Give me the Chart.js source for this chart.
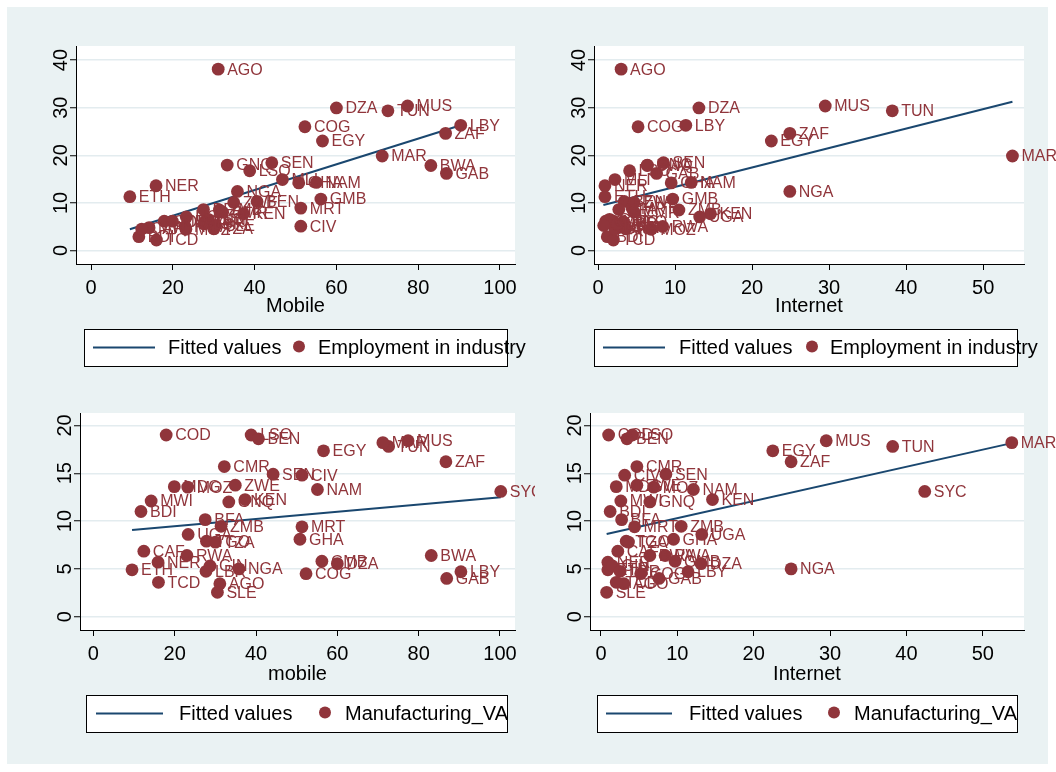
<!DOCTYPE html>
<html><head><meta charset="utf-8">
<script src="https://cdn.jsdelivr.net/npm/chart.js@4.4.1/dist/chart.umd.min.js"></script>
<style>
html,body{margin:0;padding:0;background:#fff}
body{width:1056px;height:772px;position:relative;overflow:hidden}
#bg{position:absolute;left:7px;top:7px;width:1041px;height:757px;background:#EAF2F3}
canvas{position:absolute}
</style></head>
<body>
<div id="bg"></div>
<canvas id="c1" width="535" height="386" style="left:0;top:0"></canvas>
<canvas id="c2" width="521" height="386" style="left:535px;top:0"></canvas>
<canvas id="c3" width="535" height="386" style="left:0;top:386px"></canvas>
<canvas id="c4" width="521" height="386" style="left:535px;top:386px"></canvas>
<script>
// ---------------- DATA ----------------
const countries = ['AGO','DZA','TUN','MUS','COG','EGY','LBY','ZAF','MAR','BWA','GAB','GNQ','SEN','LSO','MLI','GHA','NAM','NER','ETH','NGA','BEN','MRT','GMB','CIV','KEN','ZWE','ZMB','UGA','BFA','BDI','TCD','MWI','CAF','COD','MDG','MOZ','RWA','TGO','TZA','GIN','LBR','SLE','CMR','SYC'];
const mobile = [31.1,60.0,72.6,77.4,52.3,56.6,90.4,86.7,71.2,83.1,86.9,33.3,44.2,38.8,46.8,50.8,55.1,15.9,9.5,35.8,40.6,51.3,56.2,51.3,37.3,34.9,31.4,23.3,27.5,11.7,16.0,14.2,12.4,17.9,19.9,23.2,23.0,27.8,30.0,28.7,27.7,30.5,32.2,100.2];
const internet = [3.0,13.1,38.2,29.5,5.2,22.5,11.4,24.9,53.8,6.4,7.6,6.4,8.5,4.1,2.2,9.5,12.1,0.9,0.9,24.9,3.4,4.4,9.7,3.1,14.6,4.7,10.5,13.2,2.7,1.2,2.0,2.6,2.2,1.0,2.0,6.9,8.4,3.3,3.6,1.5,2.5,0.74,4.7,42.4];
const employment = [38.1,29.95,29.35,30.35,26.0,23.0,26.3,24.6,19.85,17.85,16.2,17.95,18.45,16.75,14.9,14.2,14.3,13.6,11.3,12.4,10.3,8.9,10.8,5.1,7.7,10.1,8.5,7.05,8.6,2.9,2.2,4.8,4.5,6.15,6.15,4.45,5.05,6.05,4.55,6.55,5.55,5.25,8.05,null];
const manufacturing = [3.45,5.55,17.8,18.4,4.5,17.35,4.7,16.2,18.2,6.4,4.0,12.0,14.9,19.0,null,8.1,13.3,5.7,4.9,5.0,18.6,9.4,5.8,14.8,12.25,13.75,9.45,8.6,10.15,11.0,3.6,12.1,6.85,19.0,13.6,13.55,6.4,7.9,7.8,5.3,4.75,2.55,15.7,13.1];

// fitted lines (endpoints)
const fitEmpMobileX = [9.5, 90.4],  fitEmpMobileY = [4.45, 26.3];
const fitEmpInternetX = [0.7, 53.8], fitEmpInternetY = [9.55, 31.25];
const fitManMobileX = [9.5, 100.2], fitManMobileY = [9.06, 12.48];
const fitManInternetX = [0.74, 53.8], fitManInternetY = [8.64, 18.15];

const ticksMobile = [0,20,40,60,80,100];
const ticksInternet = [0,10,20,30,40,50];
const ticksEmployment = [0,10,20,30,40];
const ticksManufacturing = [0,5,10,15,20];

const legendFitted = 'Fitted values';
const legendEmployment = 'Employment in industry';
const legendManufacturing = 'Manufacturing_VA';

// ---------------- STYLE ----------------
const FONT = '"Liberation Sans", Arial, Helvetica, sans-serif';
const MAROON = '#90353B', NAVY = '#1A476F';
Chart.defaults.font.family = FONT;
Chart.defaults.color = '#000';

const stataPlugin = {
  id: 'stata',
  beforeDraw(chart) {
    const a = chart.chartArea, ctx = chart.ctx;
    ctx.save(); ctx.fillStyle = '#fff';
    ctx.fillRect(a.left, a.top, a.right - a.left, a.bottom - a.top);
    ctx.restore();
  },
  afterDatasetsDraw(chart) {
    const ctx = chart.ctx, ds = chart.data.datasets[0];
    const meta = chart.getDatasetMeta(0);
    ctx.save();
    ctx.font = '16px ' + FONT; ctx.fillStyle = MAROON;
    ctx.textAlign = 'left'; ctx.textBaseline = 'middle';
    meta.data.forEach((pt, i) => { ctx.fillText(ds.pointLabels[i], pt.x + 9, pt.y + 1); });
    ctx.restore();
  },
  afterDraw(chart) {
    const o = chart.options.plugins.stata, ctx = chart.ctx, ys = chart.scales.y;
    ctx.save();
    ctx.font = '20px ' + FONT; ctx.fillStyle = '#000';
    ctx.textAlign = 'center'; ctx.textBaseline = 'middle';
    o.yTicks.forEach(v => {
      const y = ys.getPixelForValue(v);
      ctx.save(); ctx.translate(chart.chartArea.left - 15, y); ctx.rotate(-Math.PI / 2);
      ctx.fillText(String(v), 0, 0); ctx.restore();
    });
    // legend box
    const L = o.legend;
    ctx.fillStyle = '#fff'; ctx.fillRect(L.x1, L.y1, L.x2 - L.x1, L.y2 - L.y1);
    ctx.strokeStyle = '#000'; ctx.lineWidth = 1;
    ctx.strokeRect(L.x1 + 0.5, L.y1 + 0.5, L.x2 - L.x1, L.y2 - L.y1);
    const cy = (L.y1 + L.y2) / 2;
    ctx.strokeStyle = NAVY; ctx.lineWidth = 2;
    ctx.beginPath(); ctx.moveTo(L.lx1, cy); ctx.lineTo(L.lx2, cy); ctx.stroke();
    ctx.fillStyle = '#000'; ctx.textAlign = 'left'; ctx.textBaseline = 'middle';
    ctx.fillText(legendFitted, L.t1, cy + 1);
    ctx.fillStyle = MAROON;
    ctx.beginPath(); ctx.arc(L.dot, cy - 1, 6, 0, Math.PI * 2); ctx.fill();
    ctx.fillStyle = '#000';
    ctx.fillText(L.text2, L.t2, cy + 1);
    ctx.restore();
  }
};

function makePanel(id, xv, yv, fitX, fitY, xr, yr, xTicks, yTicks, xTitle, geo, legend) {
  const pts = [], lbls = [];
  countries.forEach((c, i) => {
    if (yv[i] !== null && xv[i] !== null) { pts.push({x: xv[i], y: yv[i]}); lbls.push(c); }
  });
  const fit = fitX.map((x, i) => ({x: x, y: fitY[i]}));
  const cv = document.getElementById(id);
  const W = cv.width, H = cv.height;
  new Chart(cv, {
    type: 'scatter',
    data: { datasets: [
      { data: pts, pointLabels: lbls, backgroundColor: MAROON, borderColor: MAROON,
        pointRadius: 6.4, pointBorderWidth: 0, pointHoverRadius: 6.4, order: 1, clip: false },
      { data: fit, showLine: true, borderColor: NAVY, borderWidth: 2, pointRadius: 0,
        pointHoverRadius: 0, order: 2, fill: false }
    ]},
    options: {
      responsive: false, animation: false, events: [],
      layout: { padding: { left: 0, top: geo.top, right: W - geo.right, bottom: H - geo.bottom - geo.xh } },
      plugins: { legend: { display: false }, tooltip: { enabled: false },
        stata: { yTicks: yTicks, legend: legend } },
      scales: {
        x: {
          type: 'linear', min: xr[0], max: xr[1],
          afterBuildTicks: s => { s.ticks = xTicks.map(v => ({value: v})); },
          afterFit: s => { s.height = geo.xh; s.paddingLeft = 0; s.paddingRight = 0; },
          grid: { drawOnChartArea: false, drawTicks: true, tickLength: 6, tickColor: '#000', tickWidth: 1 },
          border: { display: true, color: '#000', width: 1 },
          ticks: { font: { size: 20 }, color: '#000', padding: 6, maxRotation: 0, minRotation: 0, autoSkip: false,
                   callback: v => String(v) },
          title: { display: true, text: xTitle, font: { size: 20 }, color: '#000', padding: { top: 0, bottom: 3 } }
        },
        y: {
          type: 'linear', min: yr[0], max: yr[1],
          afterBuildTicks: s => { s.ticks = yTicks.map(v => ({value: v})); },
          afterFit: s => { s.width = geo.left; s.paddingTop = 0; s.paddingBottom = 0; },
          grid: { color: '#E3ECEF', lineWidth: 1.5, drawTicks: true, tickLength: 6, tickColor: '#000', tickWidth: 1 },
          border: { display: true, color: '#000', width: 1 },
          ticks: { display: false }
        }
      }
    },
    plugins: [stataPlugin]
  });
}

makePanel('c1', mobile, employment, fitEmpMobileX, fitEmpMobileY, [-3.67, 103.67], [-2.84, 42.96],
  ticksMobile, ticksEmployment, 'Mobile',
  { left: 76, top: 46, right: 515, bottom: 264, xh: 57.5 },
  { x1: 84, y1: 329, x2: 507, y2: 366, lx1: 93, lx2: 155, t1: 168, dot: 299, t2: 318, text2: legendEmployment });
makePanel('c2', internet, employment, fitEmpInternetX, fitEmpInternetY, [-0.52, 55.3], [-2.84, 42.96],
  ticksInternet, ticksEmployment, 'Internet',
  { left: 59, top: 46, right: 489, bottom: 264, xh: 57.5 },
  { x1: 59, y1: 329, x2: 482, y2: 366, lx1: 68, lx2: 130, t1: 144, dot: 277, t2: 295, text2: legendEmployment });
makePanel('c3', mobile, manufacturing, fitManMobileX, fitManMobileY, [-3.3, 103.7], [-1.39, 21.3],
  ticksMobile, ticksManufacturing, 'mobile',
  { left: 80, top: 27, right: 515, bottom: 244, xh: 59 },
  { x1: 86, y1: 309, x2: 507, y2: 346, lx1: 96, lx2: 163, t1: 179, dot: 325, t2: 345, text2: legendManufacturing });
makePanel('c4', internet, manufacturing, fitManInternetX, fitManInternetY, [-1.44, 55.4], [-1.39, 21.3],
  ticksInternet, ticksManufacturing, 'Internet',
  { left: 55, top: 27, right: 489, bottom: 244, xh: 59 },
  { x1: 62, y1: 309, x2: 482, y2: 346, lx1: 71, lx2: 137, t1: 154, dot: 299, t2: 319, text2: legendManufacturing });
</script>
</body></html>
